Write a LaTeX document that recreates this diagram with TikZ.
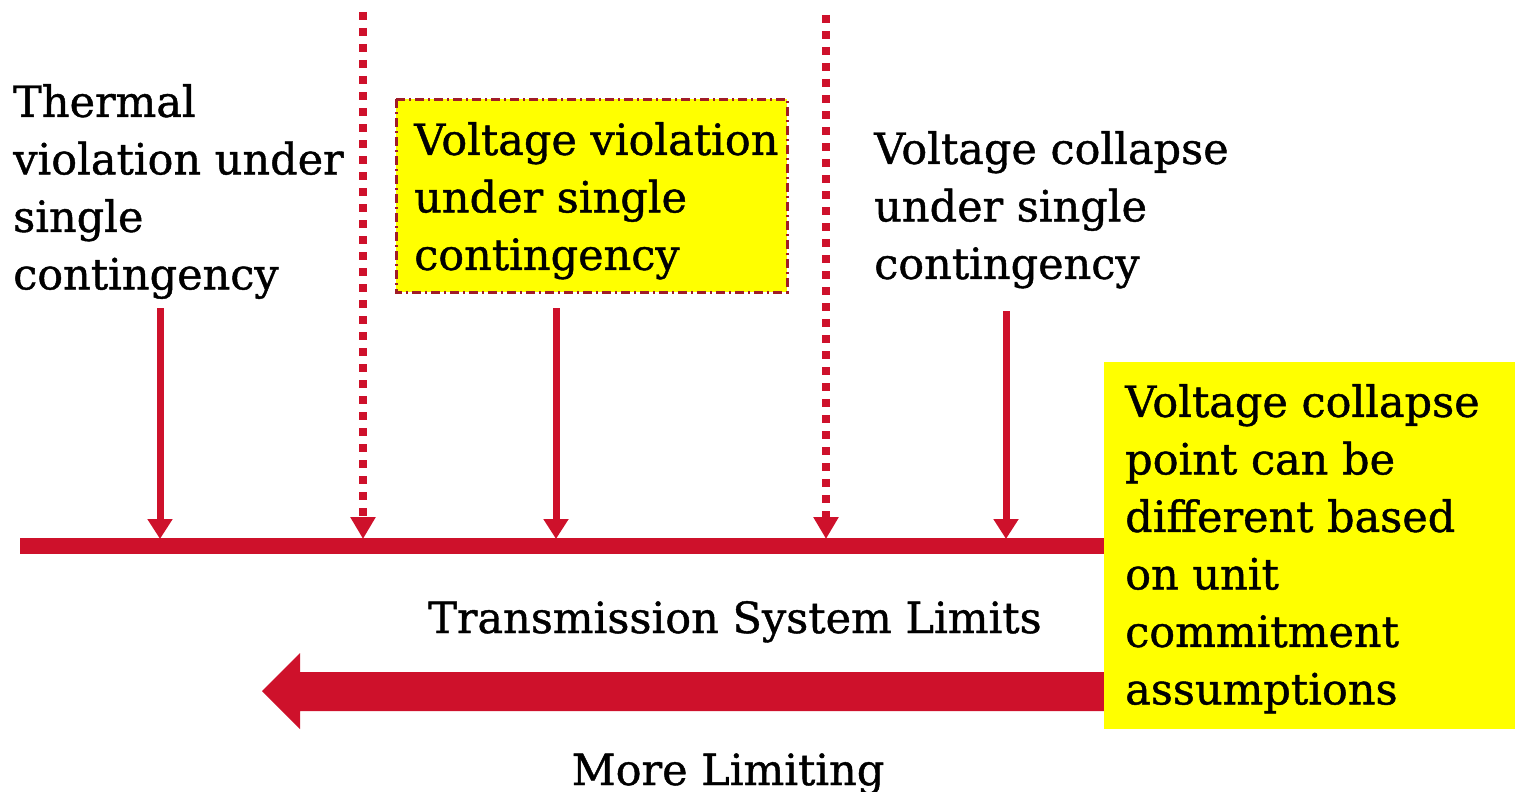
\documentclass[tikz,border=0pt]{standalone}
\usepackage{fontspec}
\setmainfont[FakeBold=1]{DejaVu Serif}
\usetikzlibrary{arrows.meta}
\definecolor{limred}{RGB}{206,17,43}
\definecolor{noteyellow}{RGB}{255,255,0}
\definecolor{boxborder}{RGB}{160,28,40}
\tikzset{
  txt/.style={inner sep=0pt, align=left, font=\fontsize{43pt}{57.5pt}\selectfont, anchor=north west},
  lbl/.style={inner sep=0pt, font=\fontsize{43pt}{57.5pt}\selectfont, anchor=base},
  solidarrow/.style={draw=limred, line width=7pt, -{Triangle[width=24pt,length=20pt]}},
  dotarrow/.style={draw=limred, line width=8pt, dash pattern=on 8pt off 8pt, -{Triangle[width=24pt,length=22pt]}},
  axisline/.style={draw=limred, line width=16pt},
}
\begin{document}
\begin{tikzpicture}[x=1pt,y=-1pt]
\useasboundingbox (0,0) rectangle (1515,792);
% axis
\coordinate (axisL) at (20,546);
\coordinate (axisR) at (1110,546);
\draw[axisline] (axisL) -- (axisR);
% texts
\node[txt] (thermal) at (13,84) {Thermal\\violation under\\single\\contingency};
\node[txt] (vcoll) at (874,131) {Voltage collapse\\under single\\contingency};
% voltage violation box
\coordinate (vvA) at (396,99);
\coordinate (vvB) at (787,292);
\draw[fill=noteyellow, draw=boxborder, line width=3pt, dash pattern=on 9pt off 4pt on 2pt off 4pt] (vvA) rectangle (vvB);
\node[txt] (vviol) at (414,122) {Voltage violation\\under single\\contingency};
% solid arrows
\coordinate (s1t) at (160,308); \coordinate (s1b) at (160,539);
\coordinate (s2t) at (556,308); \coordinate (s2b) at (556,539);
\coordinate (s3t) at (1006,311); \coordinate (s3b) at (1006,539);
\draw[solidarrow] (s1t) -- (s1b);
\draw[solidarrow] (s2t) -- (s2b);
\draw[solidarrow] (s3t) -- (s3b);
% dotted arrows
\coordinate (d1t) at (363,12); \coordinate (d1b) at (363,539);
\coordinate (d2t) at (826,15); \coordinate (d2b) at (826,539);
\draw[dotarrow] (d1t) -- (d1b);
\draw[dotarrow] (d2t) -- (d2b);
% labels
\node[lbl] (tsl) at (735,633) {Transmission System Limits};
\node[lbl] (ml) at (728,785) {More Limiting};
% big arrow
\fill[limred] (1110,672) -- (300,672) -- (300,653) -- (262,691) -- (300,729) -- (300,711) -- (1110,711) -- cycle;
% note box
\node[fill=noteyellow, inner sep=0pt, minimum width=411pt, minimum height=367pt, anchor=north west] (notebox) at (1104,362) {};
\node[txt] (note) at (1125,384) {Voltage collapse\\point can be\\different based\\on unit\\commitment\\assumptions};
\end{tikzpicture}
\end{document}
